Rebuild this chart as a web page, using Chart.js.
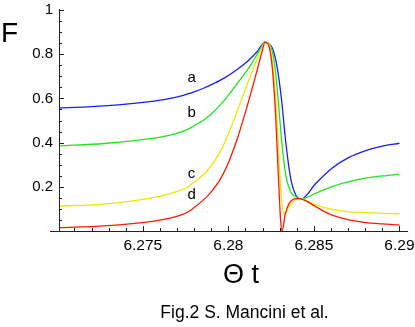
<!DOCTYPE html>
<html>
<head>
<meta charset="utf-8">
<script src="https://cdn.jsdelivr.net/npm/chart.js@4"></script>
<style>
  html, body { margin: 0; padding: 0; background: #fff; }
  #wrap { width: 415px; height: 327px; position: relative; }
</style>
</head>
<body>
<div id="wrap"><canvas id="fig" width="415" height="327"></canvas></div>
<script>
// curve a (blue)
const tA = [6.2701, 6.27274, 6.27566, 6.27683, 6.27761, 6.278, 6.27858, 6.27916, 6.27975, 6.28033, 6.28111, 6.28169, 6.28214,
  6.28234, 6.28257, 6.28286, 6.28312, 6.28335, 6.28364, 6.28394, 6.28425, 6.28511, 6.28607, 6.28705, 6.28803, 6.289, 6.29];
const fA = [0.556, 0.566, 0.588, 0.603, 0.62, 0.63, 0.647, 0.668, 0.692, 0.721, 0.767, 0.812, 0.855,
  0.848, 0.828, 0.737, 0.586, 0.405, 0.239, 0.163, 0.145, 0.215, 0.285, 0.333, 0.364, 0.384, 0.397];

// curve b (green)
const tB = [6.2701, 6.27274, 6.27566, 6.27683, 6.27761, 6.278, 6.27858, 6.27897, 6.27946, 6.27994, 6.28072, 6.28131, 6.28189, 6.28214,
  6.28248, 6.28273, 6.28292, 6.28312, 6.28335, 6.28364, 6.28394, 6.28425, 6.28511, 6.28607, 6.28705, 6.28803, 6.289, 6.29];
const fB = [0.385, 0.396, 0.42, 0.438, 0.46, 0.476, 0.503, 0.527, 0.565, 0.608, 0.688, 0.752, 0.826, 0.855,
  0.835, 0.737, 0.586, 0.405, 0.254, 0.178, 0.155, 0.145, 0.171, 0.201, 0.223, 0.239, 0.249, 0.257];

// curve c (yellow)
const tC = [6.2701, 6.27274, 6.27566, 6.27683, 6.27761, 6.278, 6.27858, 6.27897, 6.27946, 6.27994, 6.28053, 6.28111, 6.2816, 6.28199, 6.28214,
  6.28238, 6.28261, 6.2828, 6.28296, 6.28312, 6.28325, 6.28355, 6.28394, 6.28425, 6.28466, 6.28511, 6.28607, 6.28705, 6.28803, 6.289, 6.29];
const fC = [0.113, 0.122, 0.152, 0.175, 0.198, 0.221, 0.258, 0.292, 0.35, 0.428, 0.545, 0.665, 0.762, 0.835, 0.855,
  0.843, 0.737, 0.556, 0.314, 0.133, 0.077, 0.11, 0.143, 0.147, 0.134, 0.118, 0.098, 0.087, 0.083, 0.08, 0.078];

// curve d (red)
const tD = [6.2701, 6.27274, 6.27566, 6.27683, 6.27761, 6.278, 6.27858, 6.27897, 6.27946, 6.27994, 6.28053, 6.28111, 6.2816, 6.28199, 6.28214,
  6.28234, 6.28257, 6.28277, 6.28292, 6.28306, 6.28315, 6.28331, 6.28355, 6.28384, 6.28413, 6.28466, 6.28511, 6.28559, 6.28607, 6.28705, 6.28803, 6.289, 6.29];
const fD = [0.015, 0.023, 0.045, 0.063, 0.085, 0.106, 0.143, 0.175, 0.226, 0.298, 0.42, 0.568, 0.704, 0.818, 0.855,
  0.843, 0.737, 0.511, 0.254, 0.042, 0.0, 0.072, 0.125, 0.145, 0.148, 0.131, 0.11, 0.089, 0.072, 0.05, 0.038, 0.032, 0.027];

const curveNames = ["a", "b", "c", "d"];
const xTickVals = [6.275, 6.28, 6.285, 6.29];
const xTickLabels = ["6.275", "6.28", "6.285", "6.29"];
const yTickVals = [0.2, 0.4, 0.6, 0.8, 1];
const yTickLabels = ["0.2", "0.4", "0.6", "0.8", "1"];

const pts = (ts, fs) => ts.map((t, i) => ({ x: t, y: fs[i] }));

const FONT = "'Liberation Sans', Arial, Helvetica, sans-serif";

/* axes drawn Mathematica style: ticks point inward, axes overshoot a little */
const axesPlugin = {
  id: "axes",
  afterDraw(chart) {
    const { ctx, chartArea: ca } = chart;
    const xs = chart.scales.x, ys = chart.scales.y;
    const x0 = xs.getPixelForValue(6.2701);
    const y0 = ys.getPixelForValue(0);
    ctx.save();
    ctx.strokeStyle = "#222";
    ctx.lineWidth = 1;
    ctx.beginPath();
    ctx.moveTo(x0 - 9, y0 + 0.5); ctx.lineTo(ca.right, y0 + 0.5);
    ctx.moveTo(x0 + 0.5, ca.top - 1); ctx.lineTo(x0 + 0.5, y0);
    // x ticks
    for (let k = 6271; k <= 6290; k++) {
      const px = Math.round(xs.getPixelForValue(k / 1000)) + 0.5;
      const len = k % 5 === 0 ? 5 : 3;
      ctx.moveTo(px, y0); ctx.lineTo(px, y0 - len);
    }
    // y ticks
    for (let k = 1; k <= 20; k++) {
      const py = Math.round(ys.getPixelForValue(k * 0.05)) + 0.5;
      const len = k % 4 === 0 ? 5 : 3;
      ctx.moveTo(x0, py); ctx.lineTo(x0 + len, py);
    }
    ctx.stroke();

    ctx.fillStyle = "#000";
    ctx.textBaseline = "alphabetic";
    // curve labels
    ctx.font = "15px " + FONT;
    ctx.textAlign = "center";
    const lx = xs.getPixelForValue(6.27785);
    const lf = [0.675, 0.517, 0.24, 0.145];
    curveNames.forEach((n, i) => ctx.fillText(n, lx, ys.getPixelForValue(lf[i])));

    ctx.font = "28px " + FONT;
    ctx.textAlign = "left";
    ctx.fillText("F", 1, 42);

    ctx.font = "27px " + FONT;
    ctx.textAlign = "center";
    ctx.fillText("\u0398 t", 241, 283);

    ctx.font = "17.5px " + FONT;
    ctx.fillText("Fig.2 S. Mancini et al.", 244.5, 318);
    ctx.restore();
  },
};

const line = (label, data, color, order) => ({
  label, data, borderColor: color, borderWidth: 1.3,
  pointRadius: 0, fill: false, cubicInterpolationMode: "monotone", order,
});

new Chart(document.getElementById("fig").getContext("2d"), {
  type: "line",
  data: {
    datasets: [
      line("a", pts(tA, fA), "#1c1cff", 4),
      line("b", pts(tB, fB), "#1ee61e", 3),
      line("c", pts(tC, fC), "#e8e800", 2),
      line("d", pts(tD, fD), "#ff1a00", 1),
    ],
  },
  options: {
    responsive: false,
    animation: false,
    layout: { padding: { top: 10, right: 7, left: 0, bottom: 0 } },
    plugins: { legend: { display: false }, tooltip: { enabled: false } },
    scales: {
      x: {
        type: "linear",
        min: 6.2701,
        max: 6.2905,
        grid: { display: false, drawTicks: false },
        border: { display: false },
        afterFit: (s) => { s.height = 96; s.paddingLeft = 0; s.paddingRight = 0; },
        afterBuildTicks: (s) => { s.ticks = xTickVals.map((v) => ({ value: v })); },
        ticks: {
          padding: 5,
          color: "#000",
          font: { family: FONT, size: 15.5 },
          maxRotation: 0,
          autoSkip: false,
          callback: (v, i) => xTickLabels[i],
        },
      },
      y: {
        min: 0,
        max: 1,
        grid: { display: false, drawTicks: false },
        border: { display: false },
        afterFit: (s) => { s.width = 59; s.paddingTop = 0; s.paddingBottom = 0; },
        afterBuildTicks: (s) => { s.ticks = yTickVals.map((v) => ({ value: v })); },
        ticks: {
          padding: 6,
          color: "#000",
          font: { family: FONT, size: 15 },
          callback: (v, i) => yTickLabels[i],
        },
      },
    },
  },
  plugins: [axesPlugin],
});
</script>
</body>
</html>
